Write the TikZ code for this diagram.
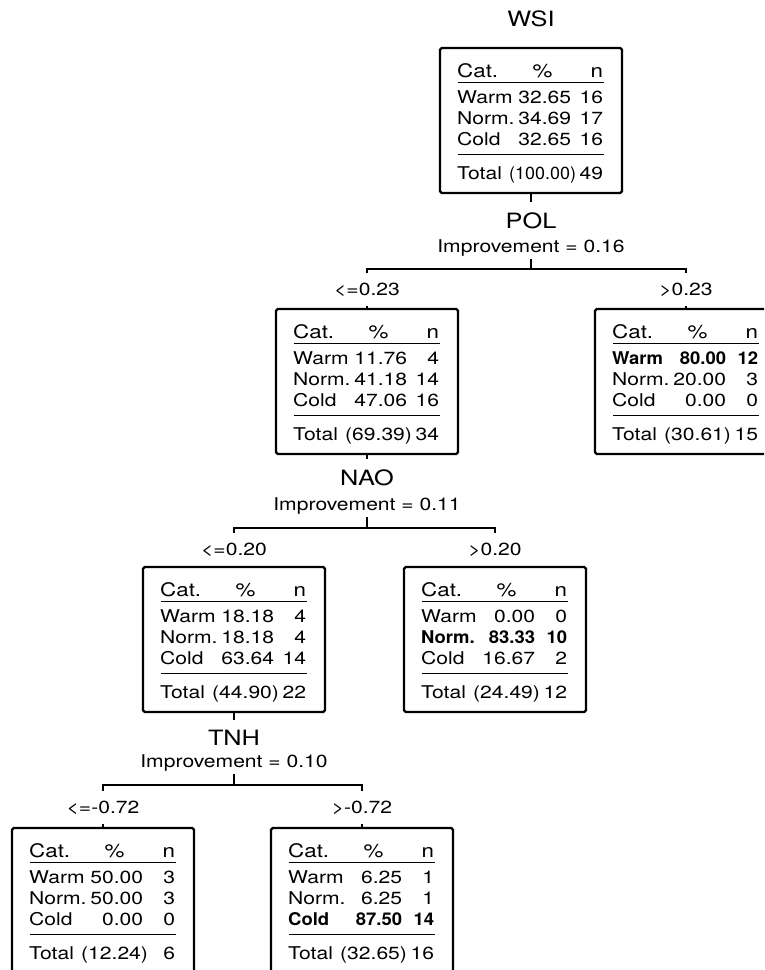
\documentclass[tikz,border=0pt]{standalone}
\usepackage{fontspec}
\setmainfont{TeX Gyre Heros}[FakeStretch=1.2, BoldFeatures={FakeStretch=1.05}]

\newcommand\catrow[3]{\makebox[39.8pt][l]{#1}\makebox[25pt][r]{#2}\makebox[18.2pt][r]{#3}}
\newcommand\catbold[3]{{\bfseries\catrow{#1}{#2}{#3}}}
\newcommand\cathead{\rule{0pt}{12.1pt}{\fontsize{10.6}{12}\selectfont\catrow{Cat.}{\%\hspace{10.6pt}}{n}}}
\newcommand\cattotal[2]{\rule[-3pt]{0pt}{3pt}\catrow{Total}{#1\kern-2.8pt}{#2}}

\begin{document}
\begin{tikzpicture}[x=0.02cm, y=-0.02cm,
    catbox/.style={draw, line width=1.25pt, rounded corners=1pt, minimum width=103.6pt,
      minimum height=82.5pt, inner sep=0pt, text width=84pt, align=left,
      font=\fontsize{10}{12}\selectfont},
    tabrule/.style={line width=0.6pt},
    splitvar/.style={anchor=base, inner ysep=5.5pt, font=\fontsize{12}{14}\selectfont},
    improve/.style={anchor=base, inner ysep=1.5pt, font=\fontsize{10}{12}\selectfont},
    cutlabel/.style={anchor=base, inner ysep=5.5pt, font=\fontsize{10}{12}\selectfont},
    conn/.style={line width=1.2pt}]
  % WSI 分类树
  \useasboundingbox (0,0) rectangle (764,970);
  \clip (0,0) rectangle (764,970);

  \node[splitvar] (wsi) at (531,27) {WSI};
  \node[catbox] (root) at (531,120.5) {\cathead\\[2.8pt]\catrow{Warm}{32.65}{16}\\\catrow{Norm.}{34.69}{17}\\\catrow{Cold}{32.65}{16}\\[7.8pt]\cattotal{\scalebox{0.85}[1]{(100.00)}}{49}};

  \node[splitvar] (pol) at (531,228) {POL};
  \node[improve] (polimp) at (531,252) {Improvement = 0.16};
  \coordinate (polbar) at (531,269);
  \node[cutlabel] (pol-le) at (367,295) {<=0.23};
  \node[cutlabel] (pol-gt) at (686,295) {>0.23};

  \node[catbox] (polL) at (367,381.5) {\cathead\\[2.8pt]\catrow{Warm}{11.76}{4}\\\catrow{Norm.}{41.18}{14}\\\catrow{Cold}{47.06}{16}\\[7.8pt]\cattotal{(69.39)}{34}};
  \node[catbox] (polR) at (686,381.5) {\cathead\\[2.8pt]\catbold{Warm}{80.00}{12}\\\catrow{Norm.}{20.00}{3}\\\catrow{Cold}{0.00}{0}\\[7.8pt]\cattotal{(30.61)}{15}};

  \node[splitvar] (nao) at (367,485) {NAO};
  \node[improve] (naoimp) at (367,510) {Improvement = 0.11};
  \coordinate (naobar) at (367,528);
  \node[cutlabel] (nao-le) at (234,555) {<=0.20};
  \node[cutlabel] (nao-gt) at (495,555) {>0.20};

  \node[catbox] (naoL) at (234,639.5) {\cathead\\[2.8pt]\catrow{Warm}{18.18}{4}\\\catrow{Norm.}{18.18}{4}\\\catrow{Cold}{63.64}{14}\\[7.8pt]\cattotal{(44.90)}{22}};
  \node[catbox] (naoR) at (495,639.5) {\cathead\\[2.8pt]\catrow{Warm}{0.00}{0}\\\catbold{Norm.}{83.33}{10}\\\catrow{Cold}{16.67}{2}\\[7.8pt]\cattotal{(24.49)}{12}};

  \node[splitvar] (tnh) at (234,745) {TNH};
  \node[improve] (tnhimp) at (234,767) {Improvement = 0.10};
  \coordinate (tnhbar) at (234,785);
  \node[cutlabel] (tnh-le) at (103,813) {<=-0.72};
  \node[cutlabel] (tnh-gt) at (362,813) {>-0.72};

  \node[catbox] (tnhL) at (103,900.5) {\cathead\\[2.8pt]\catrow{Warm}{50.00}{3}\\\catrow{Norm.}{50.00}{3}\\\catrow{Cold}{0.00}{0}\\[7.8pt]\cattotal{(12.24)}{6}};
  \node[catbox] (tnhR) at (362,900.5) {\cathead\\[2.8pt]\catrow{Warm}{6.25}{1}\\\catrow{Norm.}{6.25}{1}\\\catbold{Cold}{87.50}{14}\\[7.8pt]\cattotal{(32.65)}{16}};

  % rules under the header and above the total
  \foreach \b in {root,polL,polR,naoL,naoR,tnhL,tnhR} {
    \draw[tabrule] ([shift={(-41.5pt,-20.5pt)}]\b.north) -- ([shift={(41.5pt,-20.5pt)}]\b.north);
    \draw[tabrule] ([shift={(-41.5pt,-61pt)}]\b.north) -- ([shift={(41.5pt,-61pt)}]\b.north);
  }

  \draw[conn] (root.south) -- (pol.north);
  \draw[conn] (polimp.south) -- (polbar);
  \draw[conn] (pol-le.north) |- (polbar) -| (pol-gt.north);
  \draw[conn] (pol-le.south) -- (polL.north);
  \draw[conn] (pol-gt.south) -- (polR.north);

  \draw[conn] (polL.south) -- (nao.north);
  \draw[conn] (naoimp.south) -- (naobar);
  \draw[conn] (nao-le.north) |- (naobar) -| (nao-gt.north);
  \draw[conn] (nao-le.south) -- (naoL.north);
  \draw[conn] (nao-gt.south) -- (naoR.north);

  \draw[conn] (naoL.south) -- (tnh.north);
  \draw[conn] (tnhimp.south) -- (tnhbar);
  \draw[conn] (tnh-le.north) |- (tnhbar) -| (tnh-gt.north);
  \draw[conn] (tnh-le.south) -- (tnhL.north);
  \draw[conn] (tnh-gt.south) -- (tnhR.north);
\end{tikzpicture}
\end{document}
